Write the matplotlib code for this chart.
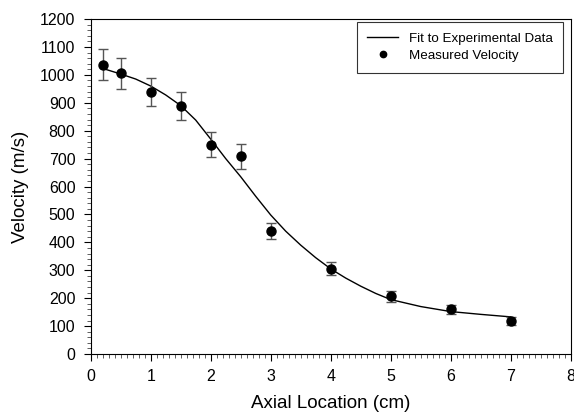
import numpy as np
import matplotlib
matplotlib.use("Agg")
import matplotlib.pyplot as plt
from matplotlib.ticker import MultipleLocator

plt.rcParams['font.family'] = ['Liberation Sans', 'DejaVu Sans']

# --- Data ---
axial_cm = [0.2, 0.5, 1.0, 1.5, 2.0, 2.5, 3.0, 4.0, 5.0, 6.0, 7.0]
velocity = [1037, 1005, 939, 888, 750, 708, 441, 305, 206, 160, 118]
velocity_err = [57, 57, 51, 50, 45, 44, 30, 23, 18, 17, 13]

fit_x = [0.2, 0.5, 0.75, 1.0, 1.25, 1.5, 1.75, 2.0, 2.25, 2.5, 2.75, 3.0,
         3.25, 3.5, 3.75, 4.0, 4.25, 4.5, 4.75, 5.0, 5.5, 6.0, 6.5, 7.0]
fit_y = [1023, 1003, 985, 960, 928, 890, 838, 770, 700, 635, 565, 498,
         440, 390, 345, 305, 272, 243, 217, 195, 170, 152, 142, 133]

# --- Plot ---
fig = plt.figure(figsize=(5.74, 4.18), dpi=100)
ax = fig.add_axes([0.158, 0.1531, 0.8363, 0.8014])

ax.plot(fit_x, fit_y, color='black', lw=1.0, label='Fit to Experimental Data')
ax.errorbar(axial_cm, velocity, yerr=velocity_err, fmt='none',
            ecolor='#555555', elinewidth=1.0, capsize=3.5, capthick=1.0)
ax.plot(axial_cm, velocity, 'o', color='black', ms=6.5, ls='none',
        label='Measured Velocity')

ax.set_xlim(0, 8)
ax.set_ylim(0, 1200)
ax.xaxis.set_major_locator(MultipleLocator(1))
ax.xaxis.set_minor_locator(MultipleLocator(0.1))
ax.yaxis.set_major_locator(MultipleLocator(100))
ax.yaxis.set_minor_locator(MultipleLocator(20))
ax.tick_params(which='major', length=5, width=0.8, labelsize=11.5, pad=6)
ax.tick_params(which='minor', length=3, width=0.6, color='#444444')

for s in ax.spines.values():
    s.set_linewidth(0.8)

ax.set_xlabel('Axial Location (cm)', fontsize=13.5, labelpad=8)
ax.set_ylabel('Velocity (m/s)', fontsize=13.5, labelpad=8)

leg = ax.legend(loc='upper right', fontsize=9.6, frameon=True, fancybox=False,
                edgecolor='black', handlelength=2.3, borderpad=0.8,
                labelspacing=0.35, borderaxespad=0, markerscale=0.7,
                bbox_to_anchor=(0.984, 0.991))
leg.get_frame().set_linewidth(0.8)

plt.savefig('out.png', dpi=100)
